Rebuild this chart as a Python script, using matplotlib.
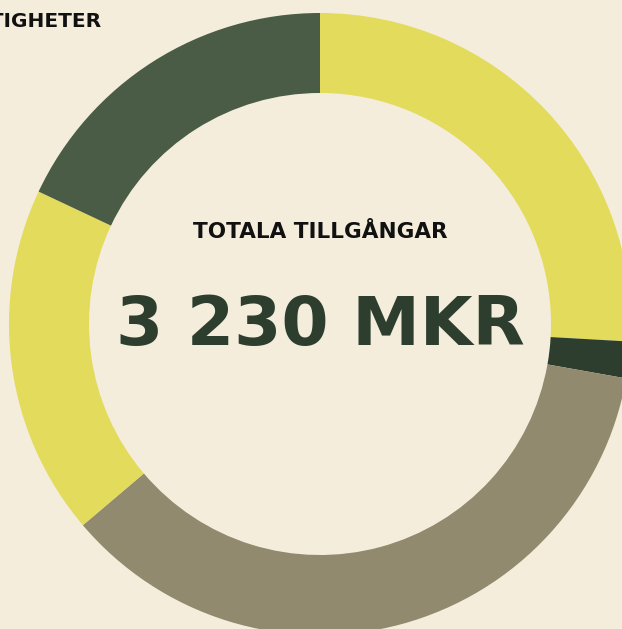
import matplotlib
matplotlib.use("Agg")
import matplotlib.pyplot as plt

# Andelar av totala tillgångar (medurs från toppen)
segments = ["Segment A", "Segment B", "Segment C", "Segment D", "Segment E"]
shares = [25.9, 1.9, 36.0, 18.2, 18.0]
colors = ["#E3DB5C", "#2D3E2F", "#918A6E", "#E3DB5C", "#4A5C45"]

title = "FASTIGHETER"
center_label = "TOTALA TILLGÅNGAR"
center_value = "3 230 MKR"

bg = "#F4EDDC"
dark = "#2D3E2F"

W, H = 622, 629
fig = plt.figure(figsize=(W / 100, H / 100), dpi=100, facecolor=bg)
ax = fig.add_axes([0, 0, 1, 1])
ax.set_facecolor(bg)

# Ringdiagram
cx, cy = 320, H - 324
ax.pie(shares, colors=colors, startangle=90, counterclock=False,
       center=(cx, cy), radius=311, frame=True,
       wedgeprops=dict(width=80, linewidth=0))
ax.set_xlim(0, W)
ax.set_ylim(0, H)
ax.axis("off")

ax.text(cx, H - 238, center_label, ha="center", va="baseline",
        fontsize=15.5, fontweight="bold", color="#111111", family="DejaVu Sans")
ax.text(cx, H - 345, center_value, ha="center", va="baseline",
        fontsize=49, fontweight="bold", color=dark, family="DejaVu Sans")

# Avklippt rubrik uppe till vänster
ax.text(101, H - 27, title, ha="right", va="baseline",
        fontsize=14.5, fontweight="bold", color="#111111", family="DejaVu Sans")

fig.savefig("out.png", dpi=100, facecolor=bg)
